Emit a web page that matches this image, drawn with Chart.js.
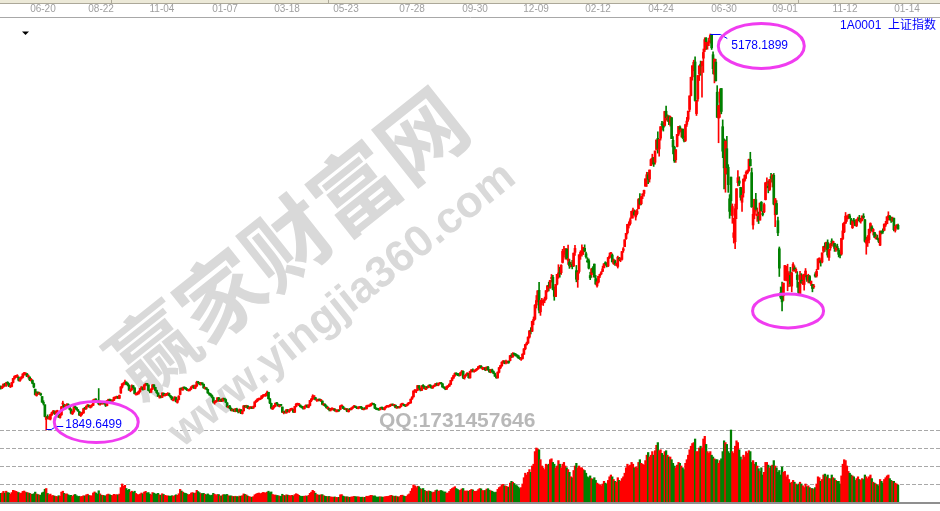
<!DOCTYPE html>
<html>
<head>
<meta charset="utf-8">
<script src="https://cdn.jsdelivr.net/npm/chart.js@4.4.0/dist/chart.umd.min.js"></script>
<style>
html, body { margin: 0; padding: 0; background: #fff; }
#wrap { position: relative; width: 940px; height: 511px; }
canvas { position: absolute; left: 0; top: 0; }
</style>
</head>
<body>
<div id="wrap"><canvas id="kline" width="940" height="511"></canvas></div>
<script>
// 上证指数 1A0001, daily bars 2013-05-06 .. 2015-12-31 (one row per month)
const opens = [
  2208,2203,2214,2232,2222,2245,2240,2213,2216,2250,2284,2298,2300,2290,2265,2284,2292,2322,2320,2322,
  2298,2294,2268,2266,2240,2193,2140,2163,2152,2155,2131,2074,2062,1938,1960,1950,1942,
  1977,1992,2000,1990,2004,1998,1955,1978,2068,2059,2030,2058,2063,2040,2023,1987,2005,2042,2036,2018,2004,1971,1988,
  1993,2031,2031,2049,2058,2039,2052,2057,2100,2104,2095,2075,2062,2085,2069,2081,2070,2055,2097,2100,2095,2092,
  2099,2118,2123,2125,2117,2160,2210,2235,2238,2252,2236,2226,2181,2190,2221,2204,2150,2153,2158,
  2175,2196,2207,2191,2230,2237,2228,2180,2167,2193,2228,2208,2182,2161,2127,2129,2125,2158,
  2139,2146,2148,2155,2134,2128,2098,2108,2122,2082,2106,2148,2195,2188,2205,2199,2193,2183,2184,2195,2212,
  2219,2202,2220,2248,2242,2236,2239,2234,2201,2198,2191,2158,2151,2140,2122,2080,2088,2094,2119,2091,2102,2095,
  2112,2105,2078,2041,2047,2030,2012,2021,2008,2027,2006,2002,2020,1988,2011,2050,2042,2050,2030,2037,2040,
  2034,2045,2085,2096,2108,2107,2115,2133,2139,2141,2142,2166,2111,2073,2026,2040,
  2050,2074,2066,2049,2060,2043,1995,2000,1994,2016,2003,2018,2023,2019,1999,2047,2065,2063,2059,2043,2038,
  2030,2046,2057,2041,2056,2096,2108,2130,2121,2100,2096,2109,2095,2093,2061,2065,2050,2033,2030,2017,2026,
  2022,2025,2010,2008,2013,2022,2050,2047,2030,2023,2025,2004,2024,2022,2034,2044,2049,2040,2033,2039,
  2040,2036,2021,2030,2028,2051,2050,2054,2066,2068,2064,2031,2025,2024,2021,2037,2033,2022,2037,2047,
  2047,2049,2059,2063,2057,2058,2036,2043,2039,2047,2066,2064,2055,2054,2061,2074,2077,2111,2129,2178,2177,2185,2221,
  2193,2183,2224,2214,2191,2208,2208,2225,2218,2204,2219,2223,2238,2227,2240,2243,2238,2207,2202,2193,2215,
  2218,2233,2267,2286,2306,2325,2318,2315,2311,2333,2343,2289,2307,2317,2326,2288,2342,2355,2343,2348,2358,
  2365,2380,2386,2366,2365,2370,2354,2378,2355,2337,2355,2340,2324,2299,2288,2335,2372,2389,
  2420,2427,2418,2419,2423,2433,2478,2467,2490,2487,2475,2473,2453,2447,2450,2486,2532,2567,2580,2630,
  2688,2680,2768,2782,2900,2952,3024,2843,2923,2923,2939,2953,3020,3060,3046,3123,3133,3034,2971,3075,3161,3169,3172,
  3258,3330,3327,3371,3276,3259,3224,3242,3228,3343,3189,3114,3182,3317,3328,3349,3377,3331,3271,3273,
  3148,3156,3212,3244,3122,3061,3093,3144,3161,3183,3213,3252,3248,3228,3303,
  3332,3320,3248,3272,3241,3224,3289,3283,3284,3359,3391,3458,3508,3570,3585,3634,3690,3683,3640,3669,3710,3793,
  3752,3825,3838,3899,3966,3995,3959,4072,4119,4140,4100,4208,4301,4212,4303,4419,4409,4410,4529,4474,4483,
  4435,4474,4285,4227,4121,4233,4336,4397,4361,4379,4294,4283,4419,4461,4544,4661,4818,4917,4943,4509,
  4633,4844,4924,4912,4975,5045,5143,5085,5111,5144,5174,5004,4840,4942,4689,4471,4604,4720,4399,4289,4006,
  4214,4058,3793,3975,3654,3468,3432,3707,3928,3943,3888,3764,3842,3948,4006,4013,4027,4124,4013,3573,3655,3786,3651,
  3643,3614,3764,3667,3683,3786,3925,3898,3870,3979,3965,3990,3658,3754,3609,3373,3004,3047,2978,3109,3168,
  3157,3103,3149,3059,3186,3211,3179,3152,3090,2998,3109,3090,3073,3150,3148,3104,3140,3077,3070,3052,
  3156,3144,3201,3275,3264,3262,3352,3395,3377,3425,3300,3380,3437,3412,3418,3365,3386,
  3362,3325,3328,3459,3514,3588,3626,3640,3650,3624,3550,3613,3601,3569,3620,3628,3604,3615,3647,3616,3420,
  3441,3450,3525,3558,3518,3510,3456,3462,3441,3403,3513,3520,3528,3573,3583,3641,3648,3627,3610,3630,3528,3566,3570
];
const highs = [
  2221,2219,2238,2241,2251,2256,2245,2226,2250,2285,2305,2310,2315,2298,2285,2300,2323,2334,2331,2326,
  2314,2298,2285,2272,2244,2193,2172,2171,2168,2160,2131,2096,2062,1963,1977,1962,1982,
  2000,2016,2012,2011,2016,2000,1980,2049,2092,2066,2062,2072,2070,2047,2028,2010,2046,2052,2040,2024,2005,1995,2000,
  2032,2040,2052,2064,2060,2055,2062,2104,2111,2114,2097,2198,2093,2088,2089,2087,2073,2098,2109,2110,2103,2104,
  2127,2128,2135,2133,2144,2214,2240,2249,2270,2255,2245,2230,2195,2230,2224,2205,2161,2167,2179,
  2200,2215,2211,2232,2243,2242,2229,2187,2197,2232,2231,2209,2185,2163,2143,2137,2163,2162,
  2155,2158,2164,2160,2140,2131,2113,2130,2126,2106,2138,2203,2204,2210,2212,2205,2198,2190,2197,2213,2226,
  2228,2228,2260,2258,2250,2250,2246,2236,2210,2206,2193,2162,2157,2145,2127,2093,2100,2122,2124,2110,2111,2118,
  2113,2110,2081,2052,2057,2035,2027,2026,2031,2033,2013,2027,2024,2012,2056,2056,2058,2055,2044,2046,2045,
  2051,2087,2101,2113,2117,2119,2138,2147,2150,2158,2177,2168,2115,2076,2045,2058,
  2076,2082,2068,2063,2065,2043,2006,2010,2023,2023,2020,2031,2034,2025,2048,2074,2076,2073,2061,2050,2046,
  2050,2061,2061,2063,2100,2116,2146,2136,2124,2108,2110,2111,2108,2095,2072,2070,2055,2044,2034,2031,2036,
  2032,2029,2019,2020,2019,2054,2061,2050,2036,2032,2029,2025,2030,2037,2046,2058,2052,2043,2043,2045,
  2048,2039,2032,2036,2055,2058,2059,2071,2077,2072,2066,2036,2030,2028,2040,2042,2036,2040,2050,2056,
  2053,2064,2067,2068,2063,2059,2048,2046,2050,2070,2075,2067,2059,2063,2077,2082,2110,2131,2178,2190,2186,2225,2226,
  2203,2222,2232,2220,2212,2215,2228,2230,2222,2220,2226,2241,2246,2242,2248,2250,2240,2214,2208,2218,2221,
  2238,2267,2290,2311,2330,2331,2324,2321,2333,2350,2346,2309,2322,2331,2327,2345,2358,2363,2351,2360,2369,
  2384,2392,2391,2378,2377,2374,2380,2385,2360,2360,2361,2346,2328,2305,2338,2376,2394,2423,
  2434,2432,2437,2430,2431,2478,2491,2500,2497,2492,2480,2475,2460,2458,2491,2535,2570,2589,2633,2685,
  2710,2765,2800,2903,2980,3020,3091,2940,2957,2945,2967,3022,3065,3093,3108,3157,3150,3052,3074,3158,3239,3218,3239,
  3369,3394,3374,3373,3404,3286,3261,3276,3338,3401,3233,3190,3323,3357,3407,3384,3406,3345,3299,3288,
  3176,3208,3224,3245,3149,3119,3142,3161,3182,3227,3249,3264,3256,3300,3337,
  3342,3330,3287,3278,3253,3311,3300,3297,3351,3384,3449,3503,3578,3600,3632,3688,3715,3700,3694,3705,3795,3836,
  3817,3836,3866,3961,4016,4016,4035,4128,4168,4141,4195,4288,4356,4294,4400,4444,4439,4529,4572,4499,4493,
  4489,4478,4316,4235,4206,4334,4402,4407,4382,4379,4321,4417,4477,4530,4658,4815,4912,4958,4986,4622,
  4829,4911,4951,4947,5052,5147,5147,5110,5144,5178.1899,5176,5029,4968,4966,4744,4577,4717,4720,4456,4297,4287,
  4317,4080,3828,3975,3750,3629,3749,3879,4030,3978,3890,3859,3961,3994,4028,4036,4126,4184,4051,3720,3789,3839,3716,
  3682,3757,3770,3689,3757,3929,3970,3943,3956,4006,3994,4006,3795,3778,3640,3388,3052,3092,3085,3233,3227,
  3243,3182,3217,3177,3257,3230,3212,3181,3090,3183,3164,3155,3160,3207,3148,3159,3149,3102,3074,3074,
  3172,3200,3288,3297,3279,3338,3394,3422,3429,3448,3369,3422,3457,3438,3420,3406,3412,
  3377,3346,3461,3585,3597,3678,3651,3663,3664,3629,3608,3629,3614,3618,3640,3654,3630,3649,3668,3621,3471,
  3484,3538,3591,3568,3543,3510,3497,3488,3459,3524,3523,3541,3582,3604,3642,3684,3653,3639,3639,3630,3567,3575,3580
];
const lows = [
  2193,2198,2208,2218,2216,2232,2213,2206,2212,2245,2276,2290,2289,2261,2258,2276,2287,2311,2311,2297,
  2286,2264,2260,2238,2204,2143,2134,2148,2150,2140,2082,2060,1959,1849.6499,1945,1938,1934,
  1971,1987,1980,1982,1998,1955,1950,1972,2045,2034,2025,2051,2039,2018,1985,1979,1998,2029,2017,2005,1970,1963,1976,
  1990,2021,2023,2044,2041,2034,2043,2055,2089,2093,2078,2061,2058,2068,2066,2069,2047,2053,2089,2091,2086,2083,
  2096,2112,2115,2114,2112,2158,2202,2226,2233,2229,2220,2183,2171,2183,2199,2152,2142,2145,2151,
  2168,2190,2185,2188,2221,2224,2180,2162,2166,2190,2205,2179,2157,2129,2117,2120,2122,2136,
  2133,2139,2141,2137,2119,2103,2094,2101,2085,2075,2102,2145,2185,2183,2195,2190,2180,2176,2178,2190,2205,
  2198,2196,2214,2236,2229,2227,2230,2200,2192,2188,2158,2143,2134,2120,2076,2067,2081,2090,2092,2088,2088,2090,
  2101,2080,2041,2035,2027,2010,2008,2004,2002,2006,1994,1999,1987,1984,2008,2040,2036,2030,2025,2030,2029,
  2031,2044,2081,2088,2101,2104,2112,2124,2133,2132,2138,2109,2070,2027,2022,2033,
  2046,2063,2048,2043,2052,1996,1985,1991,1990,2001,1997,2012,2016,1997,1996,2043,2058,2054,2042,2035,2024,
  2025,2042,2039,2036,2052,2088,2105,2116,2101,2090,2093,2094,2087,2061,2055,2047,2032,2023,2010,2009,2019,
  2015,2008,2001,2002,2006,2021,2043,2029,2021,2017,2003,2000,2016,2018,2030,2040,2037,2030,2027,2031,
  2031,2020,2018,2024,2025,2043,2045,2049,2061,2061,2030,2021,2018,2014,2018,2030,2020,2017,2033,2042,
  2040,2046,2054,2055,2050,2035,2031,2034,2033,2043,2061,2053,2046,2048,2058,2070,2075,2106,2125,2166,2163,2180,2197,
  2178,2180,2210,2195,2188,2200,2204,2215,2200,2199,2213,2217,2224,2221,2234,2236,2209,2201,2188,2190,2206,
  2216,2230,2263,2283,2301,2312,2306,2302,2305,2327,2282,2277,2301,2310,2285,2286,2336,2338,2335,2341,2351,
  2360,2372,2367,2356,2356,2348,2352,2352,2333,2330,2336,2322,2301,2284,2285,2330,2365,2385,
  2409,2406,2406,2410,2410,2430,2458,2460,2477,2470,2462,2451,2443,2434,2445,2484,2524,2563,2577,2622,
  2657,2676,2734,2774,2875,2926,2834,2813,2904,2896,2919,2943,3010,3018,3040,3093,3027,2940,2970,3070,3125,3134,3157,
  3253,3303,3285,3285,3241,3208,3220,3204,3223,3317,3095,3049,3168,3284,3310,3324,3346,3294,3259,3203,
  3113,3133,3171,3132,3074,3050,3085,3131,3157,3180,3211,3237,3220,3223,3291,
  3300,3260,3241,3233,3230,3211,3272,3264,3278,3343,3390,3451,3497,3547,3572,3628,3631,3654,3614,3658,3707,3739,
  3742,3794,3815,3898,3897,3920,3933,4071,4085,4065,4083,4202,4177,4151,4286,4371,4362,4403,4453,4444,4415,
  4404,4299,4170,4099,4099,4228,4323,4352,4312,4299,4271,4274,4401,4444,4526,4657,4790,4869,4614,4493,
  4614,4787,4831,4648,4855,5029,5049,5050,5080,5101,5048,4843,4767,4782,4476,4264,4477,4507,4139,3875,3848,
  4001,3847,3629,3653,3587,3421,3373,3626,3902,3904,3781,3686,3807,3940,3964,4002,4025,4070,3721,3537,3625,3689,3603,
  3585,3614,3688,3649,3676,3783,3885,3843,3862,3933,3892,3742,3558,3660,3484,3140,2952,2850.71,2938,3107,3103,
  3020,3054,3059,3011,3184,3186,3171,3049,2983,2993,3083,3072,3026,3136,3099,3086,3085,3063,3011,3040,
  3134,3134,3200,3254,3227,3255,3342,3351,3366,3302,3275,3360,3398,3392,3351,3350,3360,
  3304,3297,3320,3450,3508,3585,3602,3624,3628,3576,3543,3588,3565,3559,3610,3598,3588,3608,3625,3428,3327,
  3392,3423,3506,3520,3488,3467,3456,3449,3424,3400,3497,3501,3527,3560,3583,3614,3614,3594,3602,3523,3513,3546,3537
];
const closes = [
  2205,2214,2235,2225,2247,2242,2218,2218,2247,2283,2299,2302,2301,2268,2283,2294,2321,2325,2325,2301,
  2299,2272,2270,2243,2211,2148,2162,2157,2159,2144,2084,2073,1963,1959,1951,1951,1979,
  1995,2006,1994,2006,2007,1958,1971,2044,2072,2039,2059,2065,2043,2023,1992,2004,2043,2037,2021,2010,1976,1990,1994,
  2029,2029,2050,2061,2044,2052,2052,2101,2106,2100,2081,2069,2086,2072,2085,2073,2057,2096,2103,2097,2093,2098,
  2123,2124,2127,2123,2140,2212,2237,2241,2255,2236,2231,2185,2191,2221,2207,2156,2156,2160,2174,
  2199,2211,2191,2228,2238,2233,2183,2172,2193,2229,2210,2183,2164,2133,2133,2128,2160,2141,
  2149,2150,2157,2140,2129,2106,2109,2126,2087,2101,2135,2198,2193,2206,2202,2197,2186,2184,2193,2212,2220,
  2207,2223,2251,2245,2238,2238,2238,2204,2201,2196,2161,2152,2143,2127,2085,2089,2093,2120,2094,2101,2097,2116,
  2109,2084,2045,2047,2033,2014,2022,2010,2026,2009,2005,2023,1991,2008,2052,2043,2051,2034,2038,2039,2033,
  2044,2086,2097,2109,2110,2116,2136,2141,2144,2143,2167,2113,2076,2034,2041,2056,
  2075,2071,2053,2059,2057,1999,2001,1997,2019,2004,2016,2025,2024,2000,2047,2066,2067,2063,2046,2041,2033,
  2047,2058,2043,2058,2098,2109,2134,2130,2105,2101,2106,2098,2098,2066,2066,2052,2037,2036,2020,2027,2026,
  2028,2011,2010,2015,2011,2052,2050,2031,2025,2027,2005,2024,2021,2034,2042,2050,2041,2034,2040,2039,
  2038,2024,2030,2029,2052,2051,2055,2068,2070,2066,2033,2026,2024,2023,2036,2034,2023,2037,2048,2048,
  2050,2060,2064,2059,2060,2038,2044,2039,2048,2067,2066,2056,2054,2060,2075,2076,2109,2126,2178,2178,2183,2223,2201,
  2186,2221,2216,2196,2209,2206,2224,2221,2204,2218,2222,2239,2226,2240,2245,2239,2211,2203,2196,2215,2217,
  2235,2266,2288,2307,2326,2319,2316,2311,2331,2344,2291,2307,2315,2329,2290,2343,2356,2345,2347,2357,2364,
  2382,2389,2374,2366,2373,2356,2379,2356,2339,2357,2339,2326,2302,2290,2336,2373,2391,2420,
  2430,2419,2420,2425,2418,2474,2469,2494,2486,2478,2474,2456,2450,2452,2487,2532,2568,2580,2630,2683,
  2680,2763,2779,2899,2938,3020,2857,2940,2925,2938,2953,3021,3061,3057,3108,3128,3032,2973,3073,3158,3169,3166,3235,
  3351,3352,3374,3294,3286,3229,3236,3223,3336,3376,3117,3173,3323,3344,3352,3384,3353,3306,3263,3210,
  3128,3204,3175,3137,3076,3095,3142,3158,3173,3204,3247,3247,3229,3299,3311,
  3337,3264,3280,3248,3241,3302,3286,3290,3349,3373,3449,3503,3578,3582,3617,3688,3691,3661,3682,3691,3787,3748,
  3810,3826,3864,3961,3995,3957,4035,4122,4135,4085,4195,4287,4217,4294,4399,4415,4394,4527,4476,4476,4442,
  4481,4299,4229,4112,4206,4334,4401,4376,4378,4308,4284,4417,4446,4530,4658,4814,4911,4941,4620,4612,
  4829,4910,4910,4947,5023,5131,5114,5106,5121,5166,5062,4887,4967,4786,4478,4577,4691,4527,4193,4053,4277,
  4054,3912,3687,3776,3728,3507,3710,3877,3970,3924,3805,3823,3958,3992,4017,4027,4124,4070,3725,3663,3789,3705,3664,
  3622,3757,3695,3661,3744,3928,3928,3887,3955,3965,3994,3748,3794,3664,3507,3210,2965,2927,3084,3232,3206,
  3166,3160,3080,3170,3243,3197,3200,3114,3005,3153,3086,3097,3157,3186,3116,3143,3093,3101,3039,3053,
  3143,3183,3288,3294,3263,3338,3391,3387,3426,3320,3369,3413,3430,3435,3376,3388,3383,
  3326,3316,3460,3523,3591,3647,3640,3650,3633,3580,3607,3605,3568,3618,3630,3610,3616,3648,3636,3436,3446,
  3456,3537,3585,3525,3537,3470,3472,3456,3435,3520,3510,3516,3580,3578,3642,3651,3636,3612,3628,3533,3563,3573,3539
];
// 成交量 (亿股)
const volumes = [
  95,100,118,98,120,105,100,88,105,130,125,118,112,105,95,100,118,122,110,104,
  102,96,88,85,92,110,88,82,78,76,102,110,142,150,95,80,88,
  70,72,66,62,60,70,64,110,120,96,88,90,80,72,74,62,78,84,70,60,64,58,62,
  70,66,80,86,72,70,68,100,112,100,88,125,90,76,74,70,68,82,88,80,74,72,
  85,80,82,78,88,160,200,175,185,150,130,140,110,120,108,120,95,84,80,
  88,100,90,110,118,100,105,88,80,105,98,90,88,96,80,74,92,84,
  74,70,68,66,64,70,62,72,80,74,92,140,122,110,100,96,88,80,84,100,105,
  96,100,130,116,104,92,94,96,86,80,90,78,72,76,96,86,72,84,82,66,68,80,
  82,80,84,70,66,68,62,60,64,60,58,66,64,70,90,84,78,66,60,56,52,
  60,80,88,96,100,92,98,106,104,100,110,120,104,112,84,76,
  78,72,70,66,62,86,74,70,80,76,72,70,74,68,82,92,86,74,66,62,64,
  64,68,62,74,96,110,130,118,98,82,78,76,80,82,70,64,62,58,62,56,54,
  54,56,52,50,52,80,82,66,60,56,58,54,52,56,58,62,60,56,58,54,
  52,54,50,52,64,62,66,74,72,66,68,56,54,56,58,56,52,58,60,62,
  64,70,74,66,62,66,60,56,60,74,76,66,62,64,80,90,120,150,190,180,160,175,170,
  150,140,150,130,120,116,124,118,112,104,110,128,134,120,124,128,122,110,112,98,100,
  118,140,150,160,170,150,140,128,132,145,150,124,120,124,118,130,140,134,120,118,122,
  138,150,146,128,126,128,144,148,132,124,120,110,104,110,140,160,170,190,
  196,180,176,170,164,210,230,220,206,190,180,166,150,160,200,270,320,300,330,360,
  330,400,420,560,600,590,580,470,400,380,360,420,410,420,470,480,440,420,380,400,460,420,380,
  420,440,400,380,360,330,280,270,350,400,430,380,400,380,380,360,350,320,280,270,
  290,260,250,270,240,210,200,190,180,200,230,210,200,240,280,
  300,280,250,230,220,270,240,230,260,280,320,380,420,400,410,440,420,380,390,380,440,470,
  430,420,410,460,520,550,500,520,560,520,570,630,660,570,580,540,520,560,570,520,500,
  500,470,430,400,380,410,440,430,400,380,360,430,470,520,580,620,650,660,700,560,
  560,600,620,600,700,730,640,560,540,560,520,500,480,470,470,430,460,480,560,680,660,
  640,560,540,800,560,540,620,680,660,580,500,470,520,500,560,540,570,560,440,460,420,440,400,
  370,340,380,300,330,440,440,410,380,400,410,460,400,380,330,350,300,390,330,340,280,
  300,250,210,220,240,220,200,190,200,220,200,180,160,200,170,180,160,150,150,140,
  160,200,280,270,230,250,300,310,280,300,260,260,300,270,260,240,230,
  230,200,290,420,470,460,400,340,320,300,290,280,240,260,280,250,240,260,250,300,280,
  260,280,300,260,220,210,200,190,180,250,230,210,250,270,290,300,260,240,230,230,210,200,190
];
// top date axis: bar position and label
const tickPos = [30.6, 72.7, 116.8, 162.5, 207.4, 250.1, 298, 343.6, 387.8, 432.7, 478.3, 524, 568.1, 611.6, 656.5];
const tickText = ['06-20', '08-22', '11-04', '01-07', '03-18', '05-23', '07-28', '09-30', '12-09', '02-12', '04-24', '06-30', '09-01', '11-12', '01-14'];
const volTicks = [200, 400, 600, 800];
const augLowIdx = 566;

const UP = '#ff0000';
const DOWN = '#008000';
const idx = closes.map((c, i) => i);
const candleColors = closes.map((c, i) => (c >= opens[i] ? UP : DOWN));

const lowIdx = lows.indexOf(Math.min(...lows));
const highIdx = highs.indexOf(Math.max(...highs));

function drawEllipse(ctx, cx, cy, rx, ry) {
  ctx.beginPath();
  ctx.ellipse(cx, cy, rx, ry, 0, 0, Math.PI * 2);
  ctx.stroke();
}

const decor = {
  id: 'decor',
  beforeDraw(chart) {
    const ctx = chart.ctx;
    ctx.save();
    ctx.fillStyle = '#fff';
    ctx.fillRect(0, 0, chart.width, chart.height);
    ctx.fillStyle = '#ece9d8';
    ctx.fillRect(0, 0, chart.width, 3);
    ctx.fillStyle = '#aca899';
    ctx.fillRect(0, 3, chart.width, 1);
    [111, 328, 798].forEach(x => ctx.fillRect(x, 0, 1, 3));
    ctx.restore();
  },
  beforeDatasetsDraw(chart) {
    const ctx = chart.ctx;
    ctx.save();
    ctx.translate(287, 242);
    ctx.rotate(-38.5 * Math.PI / 180);
    ctx.fillStyle = '#d9d9d9';
    ctx.textAlign = 'center';
    ctx.textBaseline = 'middle';
    ctx.font = 'bold 86px "Noto Sans CJK SC"';
    ctx.fillText('赢家财富网', 0, 0);
    ctx.font = 'bold 44px "Liberation Sans", Arial';
    ctx.fillText('www.yingjia360.com', 4, 84);
    ctx.restore();
    ctx.save();
    ctx.fillStyle = '#b8b8b8';
    ctx.font = 'bold 21px "Liberation Sans", Arial';
    ctx.textBaseline = 'alphabetic';
    ctx.fillText('QQ:1731457646', 379, 427);
    ctx.restore();
  },
  afterDatasetsDraw(chart) {
    const ctx = chart.ctx;
    const xs = chart.scales.x, ys = chart.scales.y;
    ctx.save();
    // volume base line
    ctx.fillStyle = '#8f8f8f';
    ctx.fillRect(0, chart.chartArea.bottom, chart.width, 2);

    // extreme value labels
    ctx.strokeStyle = '#0000ff';
    ctx.fillStyle = '#0000ff';
    ctx.lineWidth = 1;
    ctx.font = '12px "Liberation Sans", Arial';
    const lx = xs.getPixelForValue(lowIdx), ly = ys.getPixelForValue(lows[lowIdx]);
    ctx.beginPath();
    ctx.moveTo(lx, ly - 0.5); ctx.lineTo(lx + 5, ly - 0.5);
    ctx.lineTo(lx + 10, ly - 3.5); ctx.lineTo(lx + 17, ly - 3.5);
    ctx.stroke();
    ctx.fillText(lows[lowIdx].toFixed(4), lx + 19, ly - 2);
    const hx = xs.getPixelForValue(highIdx), hy = ys.getPixelForValue(highs[highIdx]);
    ctx.beginPath();
    ctx.moveTo(hx, hy + 0.5); ctx.lineTo(hx + 10, hy + 0.5);
    ctx.lineTo(hx + 17, hy + 4.5);
    ctx.stroke();
    ctx.fillText(highs[highIdx].toFixed(4), hx + 21, hy + 15);

    // circles
    ctx.strokeStyle = '#f03cf0';
    ctx.lineWidth = 3;
    drawEllipse(ctx, lx + 50, ly - 8, 42, 20.5);
    drawEllipse(ctx, hx + 51, hy + 12, 43, 22.5);
    const ax = xs.getPixelForValue(augLowIdx), ay = ys.getPixelForValue(lows[augLowIdx]);
    drawEllipse(ctx, ax + 6, ay, 35.5, 17);

    // title and marker
    ctx.fillStyle = '#0000ff';
    ctx.font = '12px "Liberation Sans", "Noto Sans CJK SC"';
    ctx.fillText('1A0001  上证指数', 840, 29);
    ctx.fillStyle = '#000';
    ctx.beginPath();
    ctx.moveTo(22, 31.5); ctx.lineTo(29, 31.5); ctx.lineTo(25.5, 35);
    ctx.closePath();
    ctx.fill();
    ctx.restore();
  }
};

new Chart(document.getElementById('kline'), {
  type: 'bar',
  data: {
    datasets: [
      {
        label: 'body',
        data: idx.map(i => ({ x: i, y: [opens[i], closes[i]] })),
        backgroundColor: candleColors,
        barThickness: 2,
        minBarLength: 1,
        grouped: false,
        yAxisID: 'y',
        order: 1
      },
      {
        label: 'wick',
        data: idx.map(i => ({ x: i, y: [lows[i], highs[i]] })),
        backgroundColor: candleColors,
        barThickness: 1,
        minBarLength: 1,
        grouped: false,
        yAxisID: 'y',
        order: 2
      },
      {
        label: 'volume',
        data: idx.map(i => ({ x: i, y: volumes[i] })),
        backgroundColor: candleColors,
        barThickness: 1.6,
        grouped: false,
        yAxisID: 'yv',
        order: 3
      }
    ]
  },
  options: {
    responsive: false,
    animation: false,
    devicePixelRatio: 1,
    layout: { padding: { top: 4, bottom: 9, left: 0, right: 0 } },
    plugins: { legend: { display: false }, tooltip: { enabled: false } },
    scales: {
      x: {
        type: 'linear',
        position: 'top',
        offset: false,
        min: -0.5,
        max: 680.4,
        grid: { display: false, drawTicks: false },
        border: { display: true, color: '#a8a8a8', width: 1 },
        ticks: {
          autoSkip: false,
          maxRotation: 0,
          padding: 2,
          color: '#a0a0a0',
          font: { size: 10, family: '"Liberation Sans", Arial' },
          callback: (v, i) => tickText[i]
        },
        afterBuildTicks: s => { s.ticks = tickPos.map(v => ({ value: v })); },
        afterFit: s => { s.height = 13; }
      },
      y: {
        display: false,
        min: 1244.5,
        max: 5321
      },
      yv: {
        type: 'linear',
        position: 'right',
        min: 0,
        max: 5389,
        ticks: { display: false },
        grid: { color: '#a8a8a8', lineWidth: 1, drawTicks: false },
        border: { display: false, dash: [4, 2] },
        afterBuildTicks: s => { s.ticks = volTicks.map(v => ({ value: v })); },
        afterFit: s => { s.width = 0; }
      }
    }
  },
  plugins: [decor]
});
</script>
</body>
</html>
